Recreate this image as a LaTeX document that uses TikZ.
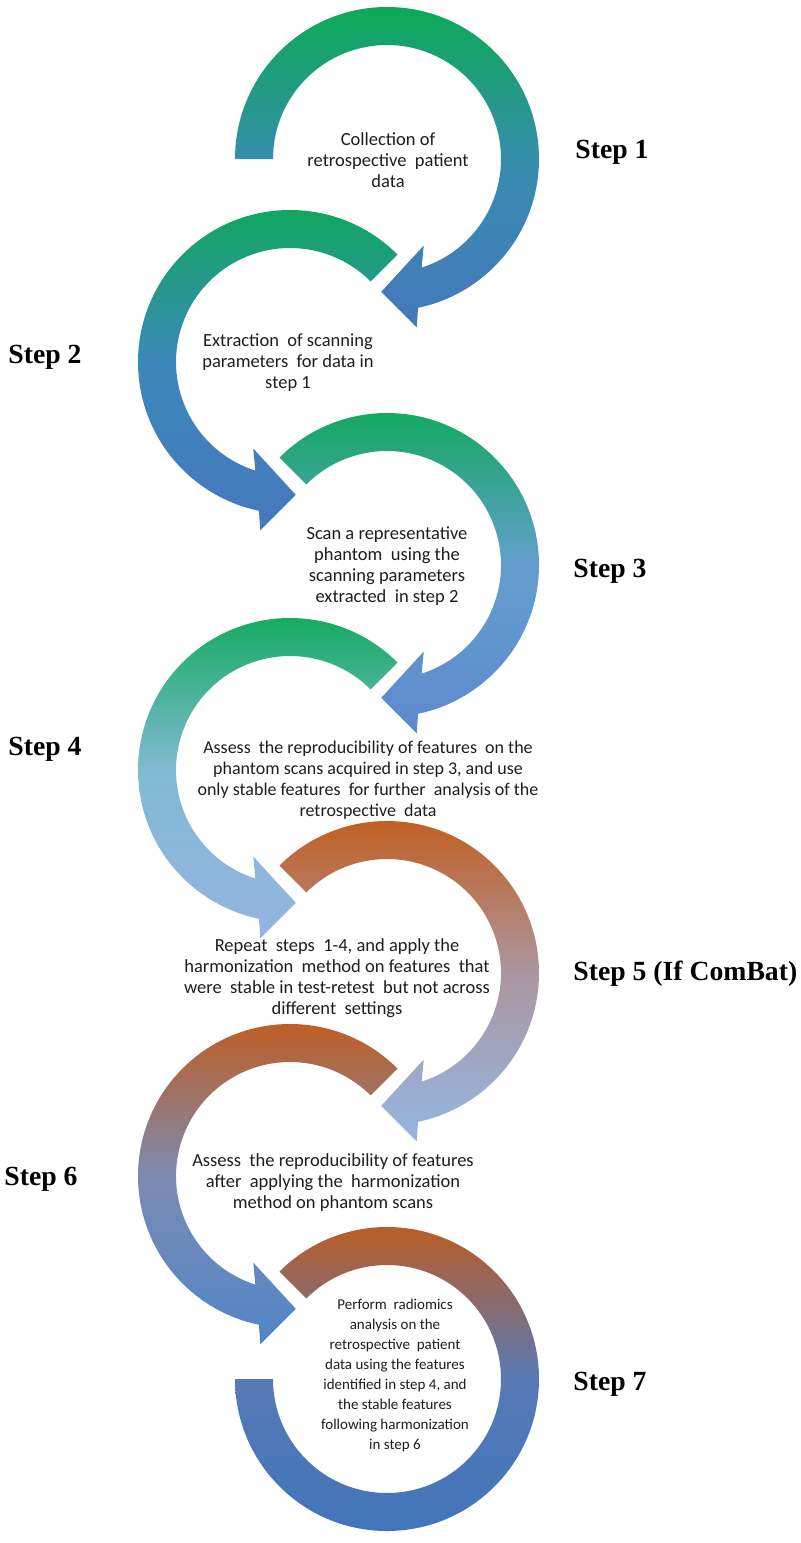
\documentclass[tikz,border=0pt]{standalone}
\usepackage{fontspec}
\setmainfont{Carlito}
\newfontfamily\stepfont{Liberation Serif}
\definecolor{gtop}{RGB}{12,170,86}
\definecolor{btm}{RGB}{70,120,190}
\definecolor{m1}{RGB}{55,140,175}
\definecolor{m2}{RGB}{60,136,186}
\definecolor{m3}{RGB}{100,158,206}
\definecolor{b3}{RGB}{92,138,204}
\definecolor{m4}{RGB}{130,186,212}
\definecolor{b4}{RGB}{148,180,224}
\definecolor{brn}{RGB}{196,90,24}
\definecolor{m5}{RGB}{172,150,160}
\definecolor{b5}{RGB}{148,182,226}
\definecolor{m6}{RGB}{125,138,178}
\definecolor{b6}{RGB}{80,134,200}
\definecolor{m7}{RGB}{88,122,182}
\definecolor{b7}{RGB}{62,116,186}
\definecolor{txt}{RGB}{30,30,30}
\newcommand\arrowcw[5]{%
  \begin{scope}[shift={#1}]
    \shade[top color=#3, bottom color=#5, middle color=#4]
      (#2:152) arc[start angle=#2, end angle=-78.2, radius=152]
      -- (-80:171) -- (-92.5:133) -- (-67:94) -- (-72.3:114)
      arc[start angle=-72.3, end angle=#2, radius=114] -- cycle;
  \end{scope}}
\newcommand\arrowccw[5]{%
  \begin{scope}[shift={#1}, xscale=-1]
    \shade[top color=#3, bottom color=#5, middle color=#4]
      (#2:152) arc[start angle=#2, end angle=-78.2, radius=152]
      -- (-80:171) -- (-92.5:133) -- (-67:94) -- (-72.3:114)
      arc[start angle=-72.3, end angle=#2, radius=114] -- cycle;
  \end{scope}}
\begin{document}
\begin{tikzpicture}[x=0.5pt, y=0.5pt,
  body/.style={align=center, inner sep=0pt, text=txt, font=\fontsize{9.25}{10.5}\selectfont},
  bodywide/.style={align=center, inner sep=0pt, text=txt, font=\fontsize{9}{10.5}\selectfont},
  bodysmall/.style={align=center, inner sep=0pt, text=txt, font=\fontsize{7.5}{10}\selectfont},
  steplabel/.style={anchor=base west, inner sep=0pt, text=black, font=\stepfont\bfseries\fontsize{13.85}{16}\selectfont}]
\useasboundingbox (0,0) rectangle (800,-1543);
\fill[white] (0,0) rectangle (800,-1543);
\coordinate (c1) at (387,-159);
\coordinate (c2) at (290,-362);
\coordinate (c3) at (387,-565);
\coordinate (c4) at (290,-770);
\coordinate (c5) at (387,-973);
\coordinate (c6) at (290,-1176);
\coordinate (c7) at (387,-1379);
% arrows
\arrowcw{(c1)}{180}{gtop}{m1}{btm}
\arrowccw{(c2)}{135}{gtop}{m2}{btm}
\arrowcw{(c3)}{135}{gtop}{m3}{b3}
\arrowccw{(c4)}{135}{gtop}{m4}{b4}
\arrowcw{(c5)}{135}{brn}{m5}{b5}
\arrowccw{(c6)}{135}{brn}{m6}{b6}
\begin{scope}[shift={(c7)}]
  \shade[top color=brn, bottom color=b7, middle color=m7]
    (135:152) arc[start angle=135, end angle=-180, radius=152]
    -- (180:114) arc[start angle=-180, end angle=135, radius=114] -- cycle;
\end{scope}
% texts
\node[body] (t1) at (388,-160) {Collection of\\retrospective\ \ patient\\data};
\node[body] (t2) at (288,-363) {Extraction\ \ of scanning\\parameters\ \ for data in\\step 1};
\node[body] (t3) at (387,-566) {Scan a representative\\phantom\ \ using the\\scanning parameters\\extracted\ \ in step 2};
\node[bodywide] (t4) at (368,-780) {Assess\ \ the reproducibility of features\ \ on the\\phantom scans acquired in step 3, and use\\only stable features\ \ for further\ \ analysis of the\\retrospective\ \ data};
\node[body] (t5) at (337,-978) {Repeat\ \ steps\ \ 1-4, and apply the\\harmonization\ \ method on features\ \ that\\were\ \ stable in test-retest\ \ but not across\\different\ \ settings};
\node[body] (t6) at (333,-1183) {Assess\ \ the reproducibility of features\\after\ \ applying the\ \ harmonization\\method on phantom scans};
\node[bodysmall] (t7) at (395,-1375) {Perform\ \ radiomics\\analysis on the\\retrospective\ \ patient\\data using the features\\identified in step 4, and\\the stable features\\following harmonization\\in step 6};
% step labels
\node[steplabel] (s1) at (575,-158) {Step 1};
\node[steplabel] (s2) at (8,-363) {Step 2};
\node[steplabel] (s3) at (573,-577) {Step 3};
\node[steplabel] (s4) at (8,-755) {Step 4};
\node[steplabel] (s5) at (573,-980) {Step 5 (If ComBat)};
\node[steplabel] (s6) at (4,-1185) {Step 6};
\node[steplabel] (s7) at (573,-1390) {Step 7};
\end{tikzpicture}
\end{document}
